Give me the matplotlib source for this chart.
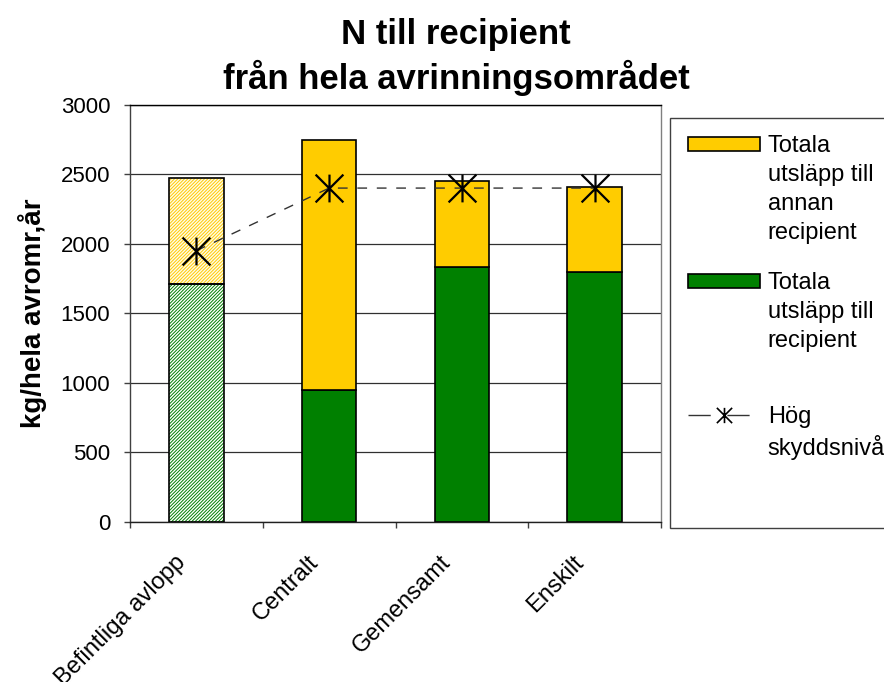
import matplotlib
matplotlib.use('Agg')
import matplotlib.pyplot as plt
from matplotlib.path import Path
from matplotlib.patches import Patch
from matplotlib.lines import Line2D

# ---------------- data ----------------
categories = ['Befintliga avlopp', 'Centralt', 'Gemensamt', 'Enskilt']
till_recipient = [1710, 950, 1830, 1800]        # green (bottom)
annan_recipient = [765, 1795, 620, 610]         # yellow (top)
hog_skyddsniva = [1950, 2400, 2400, 2400]       # line with asterisks
yticks = [0, 500, 1000, 1500, 2000, 2500, 3000]

title = 'N till recipient\nfrån hela avrinningsområdet'
ylabel = 'kg/hela avromr,år'
leg_yellow = ['Totala', 'utsläpp till', 'annan', 'recipient']
leg_green = ['Totala', 'utsläpp till', 'recipient']
leg_line = ['Hög', 'skyddsnivå']

GREEN = '#008000'
YELLOW = '#FFCC00'

plt.rcParams['font.family'] = ['Liberation Sans', 'DejaVu Sans']
plt.rcParams['hatch.linewidth'] = 0.7

fig = plt.figure(figsize=(8.84, 6.82), dpi=100)
ax = fig.add_axes([130 / 884, (682 - 522) / 682, (661 - 130) / 884, (522 - 104.6) / 682])

x = list(range(len(categories)))
w = 0.41

# hatched first bar (existing sewage)
ax.bar(x[0], till_recipient[0], w, color='white', edgecolor=GREEN, hatch='//////////',
       linewidth=0, zorder=2)
ax.bar(x[0], till_recipient[0], w, fill=False, edgecolor='black', linewidth=1.2, zorder=3)
ax.bar(x[0], annan_recipient[0], w, bottom=till_recipient[0], color='#FFFBEA',
       edgecolor=YELLOW, hatch='//////////', linewidth=0, zorder=2)
ax.bar(x[0], annan_recipient[0], w, bottom=till_recipient[0], fill=False,
       edgecolor='black', linewidth=1.2, zorder=3)

# solid bars
ax.bar(x[1:], till_recipient[1:], w, color=GREEN, edgecolor='black', linewidth=1.2, zorder=2)
ax.bar(x[1:], annan_recipient[1:], w, bottom=till_recipient[1:], color=YELLOW,
       edgecolor='black', linewidth=1.2, zorder=2)

# asterisk marker
star = Path([(0, -1), (0, 1), (-1, -1), (1, 1), (-1, 1), (1, -1)],
            [Path.MOVETO, Path.LINETO, Path.MOVETO, Path.LINETO, Path.MOVETO, Path.LINETO])
ax.plot(x, hog_skyddsniva, color='#333333', linewidth=1.0, dashes=(7, 7),
        marker=star, markersize=20, markeredgecolor='black', markerfacecolor='none',
        markeredgewidth=1.6, zorder=4)

# axes styling
ax.set_xlim(-0.5, 3.5)
ax.set_ylim(0, 3000)
ax.set_yticks(yticks)
ax.set_yticklabels([str(v) for v in yticks], fontsize=16)
ax.yaxis.grid(True, color='#303030', linewidth=0.9, zorder=0)
ax.set_axisbelow(True)
ax.tick_params(axis='y', direction='out', length=4.3, width=1, color='#404040', pad=10)

# category labels sit left of the bar centre (as in the original)
label_shift = 0.165
ax.set_xticks([xi - label_shift for xi in x])
ax.set_xticklabels(categories, fontsize=17, rotation=45, ha='right', va='top',
                   rotation_mode='anchor')
ax.set_xticks([-0.5, 0.5, 1.5, 2.5, 3.5], minor=True)
ax.tick_params(axis='x', which='major', length=0, pad=21)
ax.tick_params(axis='x', which='minor', direction='out', length=4.3, width=1, color='#404040')

ax.spines['left'].set_color('#404040')
ax.spines['bottom'].set_color('#202020')
ax.spines['top'].set_color('black')
ax.spines['right'].set_color('#808080')
for s in ax.spines.values():
    s.set_linewidth(1.0)

ax.set_ylabel(ylabel, fontsize=20, fontweight='bold')
ax.yaxis.set_label_coords(-0.157, 0.5)

fig.text(456 / 884, 1 - 18 / 682, title, ha='center', va='top', fontsize=25,
         fontweight='bold', linespacing=1.3)

# ---------------- legend ----------------
blank = Patch(facecolor='none', edgecolor='none', linewidth=0)
yel = Patch(facecolor=YELLOW, edgecolor='black', linewidth=1.2)
grn = Patch(facecolor=GREEN, edgecolor='black', linewidth=1.2)
lin = Line2D([], [], color='#333333', linewidth=1.0, dashes=(16, 12), marker=star,
             markersize=20, markeredgecolor='black', markerfacecolor='none',
             markeredgewidth=1.2)

handles, labels, spacer_sizes = [], [], {}
for i, t in enumerate(leg_yellow):
    handles.append(yel if i == 0 else blank); labels.append(t)
spacer_sizes[len(labels)] = 1
handles.append(blank); labels.append(' ')
for i, t in enumerate(leg_green):
    handles.append(grn if i == 0 else blank); labels.append(t)
spacer_sizes[len(labels)] = 32.7
handles.append(blank); labels.append(' ')
for i, t in enumerate(leg_line):
    handles.append(lin if i == 0 else blank); labels.append(t)
spacer_sizes[len(labels)] = 33.5
handles.append(blank); labels.append(' ')

leg = fig.legend(handles, labels, loc='upper left',
                 bbox_to_anchor=(670 / 884, 1 - 117.7 / 682), bbox_transform=fig.transFigure,
                 borderaxespad=0, fontsize=17, handlelength=3.05, handleheight=0.55,
                 handletextpad=0.34, labelspacing=0.284, borderpad=0.75,
                 markerscale=0.55, fancybox=False, framealpha=1, edgecolor='#404040')
leg.get_frame().set_linewidth(1.0)
for idx, size in spacer_sizes.items():
    leg.get_texts()[idx].set_fontsize(size)

fig.savefig('out.png', dpi=100)
